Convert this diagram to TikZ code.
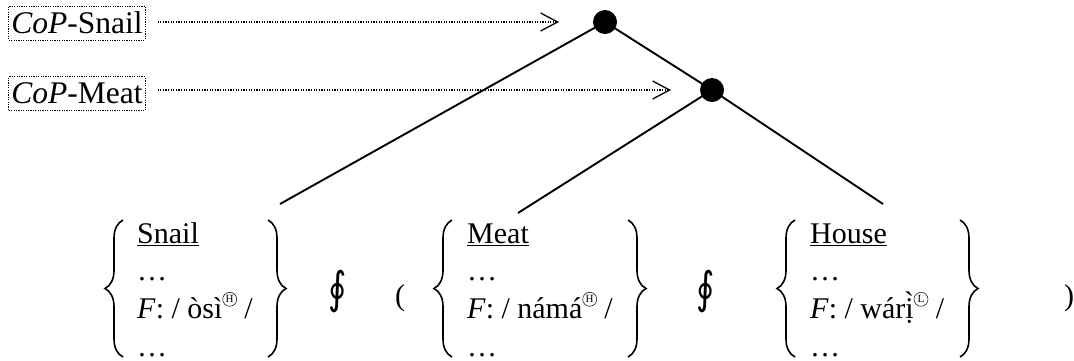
\documentclass[tikz,border=0pt]{standalone}
\usepackage{fontspec}
\setmainfont{Liberation Serif}
\newfontfamily\opfont{DejaVu Sans}
\usetikzlibrary{arrows.meta,positioning,decorations.pathreplacing}
\newcommand\tonemark[1]{\tikz[baseline=0pt]\node[circle,draw,line width=0.5pt,inner sep=0pt,minimum size=14pt,anchor=center,font=\fontsize{11}{11}\selectfont,text height=7.2pt,text depth=0pt](tm) at (0,19.5pt){#1};}
\newcommand\copbundle[2]{\begin{tabular}[t]{@{}l@{}}\underline{#1}\\ …\\ \textit{F}: / #2 /\\ …\end{tabular}}
\tikzset{
  copbox/.style={draw,line width=0.9pt,dash pattern=on 1.2pt off 1.2pt,inner xsep=2.5pt,inner ysep=0pt,text height=27pt,text depth=7pt,font=\fontsize{31.5}{36}\selectfont},
  copdot/.style={circle,fill=black,inner sep=0pt,minimum size=24pt},
  copflow/.style={line width=1.3pt,dash pattern=on 1.3pt off 1.3pt,-{Straight Barb[length=17pt,width=18pt,line width=1.3pt]}},
  copline/.style={line width=1.9pt},
  copfeat/.style={anchor=base west,inner sep=0pt,font=\fontsize{30}{37.7}\selectfont},
  copbrace/.style={line width=1.6pt,decorate,decoration={brace,amplitude=18pt,aspect=0.5}},
  copsym/.style={inner sep=0pt,font=\fontsize{44}{44}\selectfont\opfont},
  coppar/.style={anchor=base,inner sep=0pt,font=\fontsize{30}{37.5}\selectfont},
}
\begin{document}
\begin{tikzpicture}[x=1pt,y=-1pt]
\useasboundingbox (0,0) rectangle (1074,360);
% labels and tree nodes
\node[copbox](lblsnail) at (77,23){\textit{CoP}-Snail};
\node[copbox,below=36pt of lblsnail](lblmeat){\textit{CoP}-Meat};
\node[copdot](dotsnail) at (605,22){};
\node[copdot](dotmeat) at (712,90){};
% feature bundles
\node[copfeat](snail) at (137,243){\copbundle{Snail}{òsì\tonemark{H}}};
\node[copsym](orsnail) at (338,292){\scalebox{0.8}[1]{∮}};
\node[coppar](lparen) at (400,305){(};
\node[copfeat](meat) at (467,243){\copbundle{Meat}{námá\tonemark{H}}};
\node[copsym](ormeat) at (706,292){\scalebox{0.8}[1]{∮}};
\node[copfeat](house) at (810,243){\copbundle{House}{wárị̀\tonemark{L}}};
\node[coppar](rparen) at (1069,305){)};
\foreach \l/\r in {105/286,434/646,777/978}{
  \draw[copbrace] (\l+18,357) -- (\l+18,220);
  \draw[copbrace] (\r-18,220) -- (\r-18,357);
}
\coordinate (snailtop) at (280,204);
\coordinate (meattop) at (518,213);
\coordinate (housetop) at (883,204);
% branches
\draw[copline](dotsnail.center)--(snailtop);
\draw[copline](dotsnail.center)--(dotmeat.center);
\draw[copline](dotmeat.center)--(meattop);
\draw[copline](dotmeat.center)--(housetop);
\draw[copflow,shorten <=12pt,shorten >=46pt](lblsnail.east |- dotsnail)--(dotsnail.center);
\draw[copflow,shorten <=12pt,shorten >=41pt](lblmeat.east |- dotmeat)--(dotmeat.center);
\end{tikzpicture}
\end{document}
